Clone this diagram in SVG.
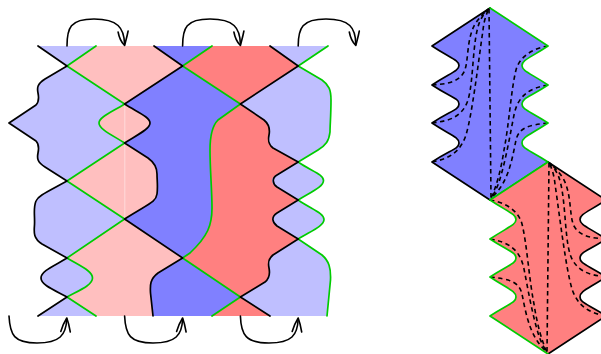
<svg xmlns="http://www.w3.org/2000/svg" width="601" height="354" viewBox="0 0 601 354">
<style>
.lb{fill:#bfbfff}.pk{fill:#ffbfbf}.bl{fill:#8080ff}.rd{fill:#ff8080}
.k,.g,.a,.d{fill:none;stroke-linecap:round;stroke-linejoin:round}
.k{stroke:#000;stroke-width:1.7}
.g{stroke:#00cc00;stroke-width:1.7}
.a{stroke:#000;stroke-width:1.6}
.d{stroke:#000;stroke-width:1.6;stroke-dasharray:4.5 3.5;stroke-linecap:butt}
</style>
<defs>
<g id="head"><path class="a" d="M-6.500 -13.500C-5.500 -8 -3 -3 0 0C1 -4 2.500 -9 3.500 -14.500"/></g>
<g id="headUp"><path class="a" d="M-6 13.500C-4.500 8 -2.500 4 0 0C1.500 4 2.500 8 3.500 14"/></g>
<g id="dashes">
<path class="d" d="M489 9L491 198"/>
<path class="d" d="M432 85C445 84 458 83 464 72C469 62 466 40 475 24C479 18 484 13 488 9"/>
<path class="d" d="M432 123C448 121 462 118 468 100C474 80 472 40 480 21C483 15 486 11 489 9"/>
<path class="d" d="M432 162C448 159 460 153 466 135C472 115 478 65 483 30C484 20 487 12 489 9"/>
<path class="d" d="M548 46C535 48 520 55 516 70C511 90 509 125 504 150C501 170 496 188 491 198"/>
<path class="d" d="M548 85C530 88 518 95 514 115C510 135 506 160 499 182C497 188 494 194 491 198"/>
<path class="d" d="M548 123C530 125 519 127 516 140C513 155 510 172 502 185C499 190 495 195 491 198"/>
</g>
</defs>

<g id="left-regions">
<path class="lb" d="M38 46H96L67 66L124.600 104C112 112 99 117 99 123C99 129 112 135 124.600 143L67 181L45 167C37 162 37 158 38 153C39 148 39 144 36 141L9 123L36 105C39 102 39 98 38 93C37 88 37 84 45 79L67 66Z"/>
<path class="lb" d="M67 181L124.600 219L67 258L42 244C33 238 34 232 34.500 225C35 215 33 208 36 201C38 196 45 193 67 181Z"/>
<path class="lb" d="M67 258C80 266 92.500 271 92.500 278C92.500 285 80 290 67 297C54 290 41 285 41 278C41 271 54 266 67 258Z"/>
<path class="lb" d="M67 297L96 316H38Z"/>
<path class="pk" d="M96 46H154L182.600 66L124.600 104L67 66Z"/>
<path class="pk" d="M124.600 104C137 112 150 117 150 123C150 129 137 135 124.600 143C112 135 99 129 99 123C99 117 112 112 124.600 104Z"/>
<path class="pk" d="M124.600 143L148 158C155 163 157 168 157 174C157 180 158 187 157 194C156 202 150 203 124.600 219L67 181Z"/>
<path class="pk" d="M124.600 219L182.600 258L158 273C150 279 150 285 150.500 293L153 316H96L67 297C80 290 92.500 285 92.500 278C92.500 271 80 266 67 258Z"/>
<path class="bl" d="M154 46H212L182.600 66Z"/>
<path class="bl" d="M182.600 66L240.400 104L218 120C212 126 210 135 210 150C210 170 212 190 212 208C212 225 208 236 190 253L182.600 258L124.600 219C150 203 156 202 157 194C158 187 157 180 157 174C157 168 155 163 148 158L124.600 143C137 135 150 129 150 123C150 117 137 112 124.600 104Z"/>
<path class="bl" d="M182.600 258L240.400 297L212 316H153L150.500 293C150 285 150 279 158 273Z"/>
<path class="rd" d="M212 46H270L298.200 66L240.400 104L182.600 66Z"/>
<path class="rd" d="M240.400 104L264 120C270 125 270 130 269 135C268 140 268 144 273 148L298.200 162L277 175C272 178 272 183 277 187L298.200 200L277 213C271 217 272 222 277 226L298.200 239L273 255C268 259 268 263 269 268C270 273 270 278 265 282L240.400 297L182.600 258L190 253C208 236 212 225 212 208C212 190 210 170 210 150C210 135 212 126 218 120Z"/>
<path class="rd" d="M240.400 297L270 316H212Z"/>
<path class="lb" d="M270 46H328L298.200 66L322 80C329 85 331 90 331 100C331 115 330 125 330 132C329 141 326 145 318 150L298.200 162L273 148C268 144 268 140 269 135C270 130 270 125 264 120L240.400 104L298.200 66Z"/>
<path class="lb" d="M298.200 162C311 171 323.500 174 323.500 180.500C323.500 187 311 192 298.200 200C285 192 272 187 272 180.500C272 174 285 171 298.200 162Z"/>
<path class="lb" d="M298.200 200C311 209 324 213 324 219.500C324 226 311 231 298.200 239C285 231 272 226 272 219.500C272 213 285 209 298.200 200Z"/>
<path class="lb" d="M298.200 239L322 255C329 261 331 268 330.500 280L327 316H270L240.400 297L265 282C270 278 270 273 269 268C268 263 268 259 273 255Z"/>
<path d="M124.800 104V219" fill="none" stroke="#ffe6e6" stroke-width="0.7"/>
</g>

<g id="connectors">
<g id="green-edges">
<path class="g" d="M96 46L67 66L124.600 104C112 112 99 117 99 123C99 129 112 135 124.600 143L67 181L124.600 219L67 258C80 266 92.500 271 92.500 278C92.500 285 80 290 67 297L96 316"/>
<path class="g" d="M212 46L182.600 66L240.400 104L218 120C212 126 210 135 210 150C210 170 212 190 212 208C212 225 208 236 190 253L182.600 258L240.400 297L212 316"/>
<path class="g" d="M328 46L298.200 66L322 80C329 85 331 90 331 100C331 115 330 125 330 132C329 141 326 145 318 150L298.200 162C311 171 323.500 174 323.500 180.500C323.500 187 311 192 298.200 200C311 209 324 213 324 219.500C324 226 311 231 298.200 239L322 255C329 261 331 268 330.500 280L327 316"/>
</g>
<g id="black-edges">
<path class="k" d="M38 46L67 66L45 79C37 84 37 88 38 93C39 98 39 102 36 105L9 123L36 141C39 144 39 148 38 153C37 158 37 162 45 167L67 181C45 193 38 196 36 201C33 208 35 215 34.500 225C34 232 33 238 42 244L67 258C54 266 41 271 41 278C41 285 54 290 67 297L38 316"/>
<path class="k" d="M154 46L182.600 66L124.600 104C137 112 150 117 150 123C150 129 137 135 124.600 143L148 158C155 163 157 168 157 174C157 180 158 187 157 194C156 202 150 203 124.600 219L182.600 258L158 273C150 279 150 285 150.500 293L153 316"/>
<path class="k" d="M270 46L298.200 66L240.400 104L264 120C270 125 270 130 269 135C268 140 268 144 273 148L298.200 162L277 175C272 178 272 183 277 187L298.200 200L277 213C271 217 272 222 277 226L298.200 239L273 255C268 259 268 263 269 268C270 273 270 278 265 282L240.400 297L270 316"/>
</g>
<g id="arrows">
<path class="a" d="M67 46C67 28 70 19 94 19C118 19 124 28 124.600 44"/><use href="#head" x="124.600" y="45.500"/>
<path class="a" d="M182.600 46C182.600 28 186 19 210 19C234 19 240 28 240.400 44"/><use href="#head" x="240.400" y="45.500"/>
<path class="a" d="M298.200 46C298.200 28 302 19 326 19C350 19 355.500 28 355.800 44"/><use href="#head" x="355.800" y="45.500"/>
<path class="a" d="M9 316C10 335 14 343 37 343C60 343 66 335 66.800 319"/><use href="#headUp" x="66.800" y="318"/>
<path class="a" d="M124.600 316C125.500 335 130 343 153 343C176 343 182 335 182.600 319"/><use href="#headUp" x="182.600" y="318"/>
<path class="a" d="M240.400 316C241 335 246 343 269 343C292 343 297.500 335 298.200 319"/><use href="#headUp" x="298.200" y="318"/>
</g>
</g>

<g id="blue-piece">
<path class="bl" d="M490 8L548 46C530 58 522 60 522 65.500C522 71 530 73 548 85C530 97 522 98 522 104C522 110 530 111 548 123C530 135 522 137 522 143C522 149 530 150 548 162L490 200L432 162C450 150 459 149 459 143C459 137 450 135 432 123C450 111 459 110 459 104C459 98 450 97 432 85C450 73 459 71 459 65.500C459 60 450 58 432 46Z"/>
<use href="#dashes"/>
<path class="k" d="M490 8L432 46C450 58 459 60 459 65.500C459 71 450 73 432 85C450 97 459 98 459 104C459 110 450 111 432 123C450 135 459 137 459 143C459 149 450 150 432 162L490 200"/>
<path class="g" d="M490 8L548 46C530 58 522 60 522 65.500C522 71 530 73 548 85C530 97 522 98 522 104C522 110 530 111 548 123C530 135 522 137 522 143C522 149 530 150 548 162L490 200"/>
</g>

<g id="red-piece">
<path class="rd" d="M548 162L606 200C588 212 580 214 580 219.500C580 225 588 227 606 239C588 251 580 252 580 258C580 264 588 265 606 277C588 289 580 291 580 297C580 303 588 304 606 316L548 354L490 316C508 304 516 303 516 297C516 291 508 289 490 277C508 265 516 264 516 258C516 252 508 251 490 239C508 227 516 225 516 219.500C516 214 508 212 490 200Z"/>
<use href="#dashes" transform="translate(1038,154) scale(-1,1)"/>
<path class="k" d="M548 162L606 200C588 212 580 214 580 219.500C580 225 588 227 606 239C588 251 580 252 580 258C580 264 588 265 606 277C588 289 580 291 580 297C580 303 588 304 606 316L548 354"/>
<path class="g" d="M548 162L490 200C508 212 516 214 516 219.500C516 225 508 227 490 239C508 251 516 252 516 258C516 264 508 265 490 277C508 289 516 291 516 297C516 303 508 304 490 316L548 354"/>
</g>
</svg>
